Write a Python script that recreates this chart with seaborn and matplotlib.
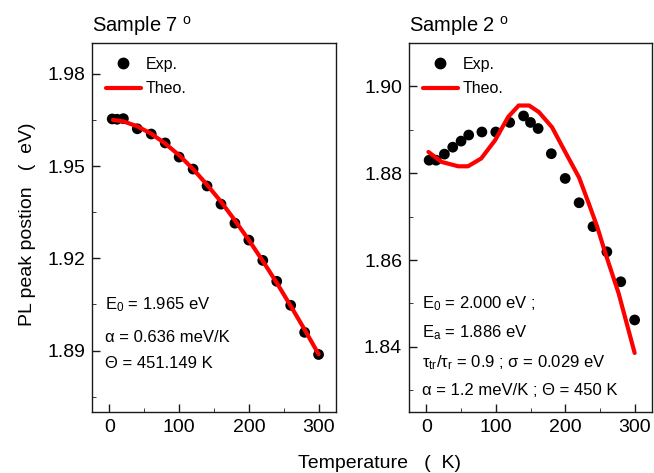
import numpy as np
import pandas as pd
import matplotlib
matplotlib.use("Agg")
import matplotlib.pyplot as plt
import seaborn as sns
from matplotlib.ticker import MultipleLocator, FormatStrFormatter
from matplotlib.lines import Line2D

# Sample 7 deg: measured and fitted PL peak position
t7_exp = [4, 11, 20, 40, 60, 80, 100, 120, 140, 160, 180, 200, 220, 240, 260, 280, 300]
e7_exp = [1.9653, 1.9652, 1.9654, 1.9621, 1.9604, 1.9575, 1.9529, 1.9490, 1.9435,
          1.9376, 1.9314, 1.9259, 1.9193, 1.9125, 1.9047, 1.8959, 1.8887]
t7_theo = [5, 20, 40, 60, 80, 100, 120, 140, 160, 180, 200, 220, 240, 260, 280, 300]
e7_theo = [1.9650, 1.9645, 1.9629, 1.9605, 1.9573, 1.9535, 1.9490, 1.9439,
           1.9384, 1.9323, 1.9259, 1.9191, 1.9120, 1.9045, 1.8968, 1.8888]

# Sample 2 deg
t2_exp = [4, 14, 26, 38, 50, 61, 80, 100, 120, 140, 150, 161, 180, 200, 220, 240, 260, 280, 300]
e2_exp = [1.8830, 1.8830, 1.8844, 1.8860, 1.8874, 1.8888, 1.8895, 1.8895, 1.8917, 1.8932,
          1.8917, 1.8903, 1.8845, 1.8788, 1.8732, 1.8677, 1.8619, 1.8550, 1.8462]
t2_theo = [3, 22, 46, 60, 79, 99, 118, 133, 148, 162, 181, 200, 220, 234, 246, 258, 277, 300]
e2_theo = [1.8849, 1.8826, 1.8816, 1.8816, 1.8834, 1.8876, 1.8930, 1.8956, 1.8956,
           1.8941, 1.8906, 1.8849, 1.8790, 1.8730, 1.8677, 1.8615, 1.8523, 1.8386]

titles = ["Sample 7 $^{\\mathrm{o}}$", "Sample 2 $^{\\mathrm{o}}$"]
notes7 = ["E$_0$ = 1.965 eV", "α = 0.636 meV/K", "Θ = 451.149 K"]
notes2 = ["E$_0$ = 2.000 eV ;", "E$_a$ = 1.886 eV",
          "τ$_{tr}$/τ$_r$ = 0.9 ; σ = 0.029 eV", "α = 1.2 meV/K ; Θ = 450 K"]

sns.set_style("ticks")
plt.rcParams["font.family"] = ["Liberation Sans", "DejaVu Sans"]
plt.rcParams.update({
    "mathtext.fontset": "custom",
    "mathtext.rm": "Liberation Sans",
    "mathtext.it": "Liberation Sans",
    "mathtext.bf": "Liberation Sans:bold",
    "text.color": "black",
    "axes.labelcolor": "black",
    "xtick.labelcolor": "black",
    "ytick.labelcolor": "black",
    "xtick.direction": "in",
    "ytick.direction": "in",
    "xtick.major.size": 5.5,
    "ytick.major.size": 5.5,
    "xtick.minor.size": 3,
    "ytick.minor.size": 3,
    "xtick.major.width": 1,
    "ytick.major.width": 1,
    "axes.linewidth": 1.0,
    "axes.edgecolor": "#1a1a1a",
    "xtick.color": "#1a1a1a",
    "ytick.color": "#1a1a1a",
})

fig = plt.figure(figsize=(6.54, 4.73), dpi=100)
ax1 = fig.add_axes([92 / 654, 61 / 473, 244 / 654, 369 / 473])
ax2 = fig.add_axes([409 / 654, 61 / 473, 243 / 654, 369 / 473])

panels = [
    (ax1, t7_exp, e7_exp, t7_theo, e7_theo, (1.870, 1.990), 0.03, notes7,
     [0.279, 0.190, 0.119]),
    (ax2, t2_exp, e2_exp, t2_theo, e2_theo, (1.825, 1.910), 0.02, notes2,
     [0.282, 0.203, 0.122, 0.046]),
]

for i, (ax, tx, ex, tt, et, ylim, ystep, notes, ys) in enumerate(panels):
    sns.scatterplot(x=tx, y=ex, ax=ax, color="black", s=60, edgecolor="none", zorder=2)
    sns.lineplot(x=tt, y=et, ax=ax, color="red", linewidth=3, estimator=None, zorder=3)
    ax.set_xlim(-25, 325)
    ax.set_ylim(*ylim)
    ax.xaxis.set_major_locator(MultipleLocator(100))
    ax.xaxis.set_minor_locator(MultipleLocator(50))
    ax.yaxis.set_major_locator(MultipleLocator(ystep))
    ax.yaxis.set_minor_locator(MultipleLocator(ystep / 2))
    ax.yaxis.set_major_formatter(FormatStrFormatter("%.2f"))
    ax.tick_params(labelsize=14, pad=5)
    ax.tick_params(which="both", top=False, right=False)
    for sp in ax.spines.values():
        sp.set_visible(True)
    ax.set_title(titles[i], loc="left", fontsize=14.5, pad=8)
    for note, y in zip(notes, ys):
        ax.text(0.055, y, note, transform=ax.transAxes, fontsize=12, va="baseline")
    handles = [
        Line2D([], [], marker="o", linestyle="none", color="black", markersize=7.5),
        Line2D([], [], color="red", linewidth=3),
    ]
    ax.legend(handles, ["Exp.", "Theo."], loc="upper left", frameon=False, fontsize=11.5,
              handlelength=2.2, handletextpad=0.3, labelspacing=0.6,
              borderaxespad=0.6, borderpad=0.25)

fig.text(28 / 654, 1 - 224 / 473, "PL peak postion   (  eV)", rotation=90,
         ha="center", va="center", fontsize=14)
fig.text(380 / 654, 5 / 473, "Temperature   (  K)", ha="center", va="baseline", fontsize=14)

fig.savefig("out.png", dpi=100)
